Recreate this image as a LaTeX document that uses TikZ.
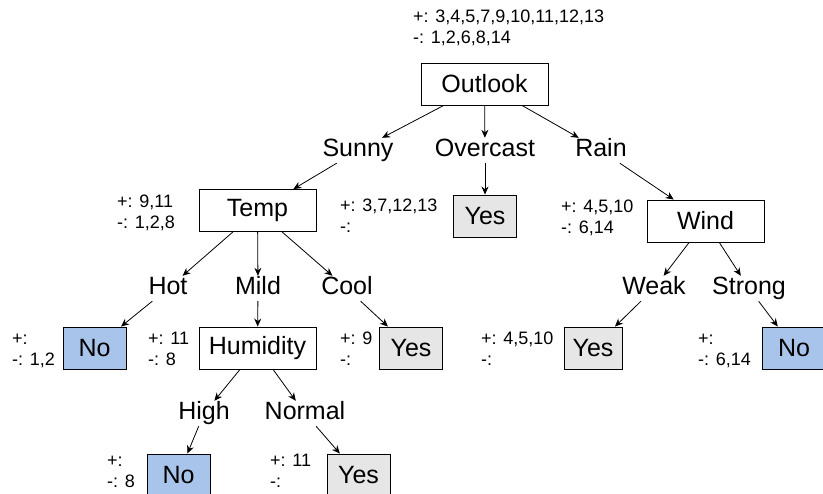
\documentclass[tikz,border=0pt]{standalone}
\usepackage{fontspec}
\setmainfont{Liberation Sans}
\usetikzlibrary{arrows.meta,positioning}

\definecolor{leafno}{HTML}{A9C4EB}
\definecolor{leafyes}{HTML}{E6E6E6}

\begin{document}
\begin{tikzpicture}[x=1pt, y=-1pt,
  box/.style={draw, line width=0.9pt, minimum height=42, inner sep=0pt,
              font=\fontsize{25}{30}\selectfont},
  nobox/.style={box, fill=leafno, minimum width=63},
  yesbox/.style={box, fill=leafyes, minimum width=63},
  lbl/.style={anchor=base, inner sep=1pt, text height=18, text depth=5,
              font=\fontsize{25}{30}\selectfont},
  note/.style={anchor=base west, align=left, inner sep=0pt,
               font=\fontsize{18}{21.5}\selectfont},
  arr/.style={-{Stealth[length=8pt,width=7pt]}, line width=0.8pt}]
  % Page
  \useasboundingbox (0,0) rectangle (823,494);

  % Define nodes
  \node[box, minimum width=127] (outlook) at (484.5,84) {Outlook};
  \node[lbl] (sunny) at (358,157) {Sunny};
  \node[lbl] (overcast) at (485,157) {Overcast};
  \node[lbl] (rain) at (601,157) {Rain};

  \node[box, minimum width=117] (temp) at (257.5,210.5) {Temp};
  \node[yesbox] (yesover) at (485,216) {Yes};
  \node[box, minimum width=117] (wind) at (705.5,221) {Wind};

  \node[lbl] (hot) at (168,295) {Hot};
  \node[lbl] (mild) at (258,295) {Mild};
  \node[lbl] (cool) at (347,295) {Cool};
  \node[lbl] (weak) at (654,295) {Weak};
  \node[lbl] (strong) at (749,295) {Strong};

  \node[nobox] (nohot) at (94.5,348) {No};
  \node[box, minimum width=117] (humidity) at (257.5,348) {Humidity};
  \node[yesbox] (yescool) at (411,348) {Yes};
  \node[yesbox, minimum width=58] (yesweak) at (593,348) {Yes};
  \node[nobox] (nostrong) at (794,348) {No};

  \node[lbl] (high) at (204,420) {High};
  \node[lbl] (normal) at (305,420) {Normal};

  \node[nobox] (nohigh) at (178.5,475) {No};
  \node[yesbox] (yesnormal) at (358.5,475) {Yes};

  % Example counts (placed at the baseline of the second line)
  \node[note] (n-outlook) at (413,44) {+: 3,4,5,7,9,10,11,12,13\\-: 1,2,6,8,14};
  \node[note] (n-temp) at (117,229) {+: 9,11\\-: 1,2,8};
  \node[note] (n-yesover) at (340,233) {+: 3,7,12,13\\-:};
  \node[note] (n-wind) at (561,234) {+: 4,5,10\\-: 6,14};
  \node[note] (n-nohot) at (12,366) {+:\\-: 1,2};
  \node[note] (n-humidity) at (148,366) {+: 11\\-: 8};
  \node[note] (n-yescool) at (340,366) {+: 9\\-:};
  \node[note] (n-yesweak) at (481,366) {+: 4,5,10\\-:};
  \node[note] (n-nostrong) at (698,366) {+:\\-: 6,14};
  \node[note] (n-nohigh) at (107,488) {+:\\-: 8};
  \node[note] (n-yesnormal) at (270,488) {+: 11\\-:};

  % Draw edges
  \draw[arr] (outlook) -- (sunny);
  \draw[arr] (outlook) -- (overcast);
  \draw[arr] (outlook) -- (rain);
  \draw[arr] (sunny) -- (temp);
  \draw[arr] (overcast) -- (yesover);
  \draw[arr] (rain) -- (wind);
  \foreach \a in {hot, mild, cool}
      \draw[arr] (temp) -- (\a);
  \draw[arr] (wind) -- (weak);
  \draw[arr] (wind) -- (strong);
  \draw[arr] (hot) -- (nohot);
  \draw[arr] (mild) -- (humidity);
  \draw[arr] (cool) -- (yescool);
  \draw[arr] (weak) -- (yesweak);
  \draw[arr] (strong) -- (nostrong);
  \draw[arr] (humidity) -- (high);
  \draw[arr] (humidity) -- (normal);
  \draw[arr] (high) -- (nohigh);
  \draw[arr] (normal) -- (yesnormal);
\end{tikzpicture}
\end{document}
